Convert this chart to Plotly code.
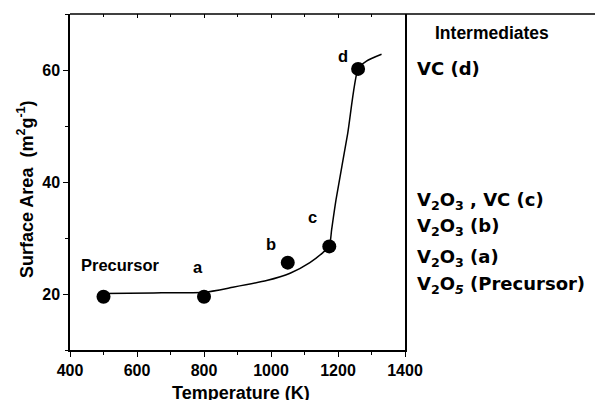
import plotly.graph_objects as go

# Measured surface areas of the precursor and intermediates
temperature_K = [500, 800, 1050, 1174, 1260]
surface_area = [19.5, 19.5, 25.6, 28.5, 60.2]
point_labels = ["Precursor", "a", "b", "c", "d"]

# Smooth guide curve through the data
curve_T = [500, 650, 800, 886, 987, 1057, 1116, 1155, 1174, 1181, 1194, 1229, 1260, 1285, 1330]
curve_SA = [20.1, 20.2, 20.3, 21.2, 22.4, 23.7, 25.6, 27.4, 28.5, 31.5, 36.8, 48.7, 60.2, 61.6, 62.8]

# Phases found at each stage
phase_labels = [
    "VC (d)",
    "V<sub>2</sub>O<sub>3</sub> , VC (c)",
    "V<sub>2</sub>O<sub>3</sub> (b)",
    "V<sub>2</sub>O<sub>3</sub> (a)",
    "V<sub>2</sub>O<sub><i>5</i></sub> (Precursor)",
]

FONT = "Liberation Sans"
PHASE_FONT = "DejaVu Sans"
W, H = 595, 400
L, R, T, B = 70, 190, 14, 50
PW, PH = W - L - R, H - T - B


def px_x(x):
    return (x - L) / PW


def px_y(y):
    return (H - B - y) / PH


def bold(size, family=FONT):
    return dict(family=family, size=size, color="black", weight="bold")


fig = go.Figure()

fig.add_trace(go.Scatter(
    x=curve_T, y=curve_SA, mode="lines",
    line=dict(color="black", width=1.5, shape="spline", smoothing=0.6),
    hoverinfo="skip", showlegend=False,
))
fig.add_trace(go.Scatter(
    x=temperature_K, y=surface_area, mode="markers",
    marker=dict(color="black", size=14),
    showlegend=False,
))

# Point labels, offset from each marker (pixels)
label_offsets = {
    "Precursor": (17, 32),
    "a": (-6, 30),
    "b": (-17, 19),
    "c": (-17, 29),
    "d": (-15, 13),
}
for t, s, lab in zip(temperature_K, surface_area, point_labels):
    dx, dy = label_offsets[lab]
    fig.add_annotation(
        x=t, y=s, text=lab, showarrow=False,
        xshift=dx, yshift=dy, xanchor="center", yanchor="middle",
        font=bold(16.5),
    )

# Right-hand panel text
fig.add_annotation(
    xref="paper", yref="paper", x=px_x(433), y=px_y(32.5),
    text="Intermediates", showarrow=False, xanchor="left", yanchor="middle",
    font=bold(17.5),
)
phase_rows = [68.5, 200.5, 227, 257.5, 284.5]
for txt, yrow in zip(phase_labels, phase_rows):
    fig.add_annotation(
        xref="paper", yref="paper", x=px_x(415), y=px_y(yrow),
        text=txt, showarrow=False, xanchor="left", yanchor="middle",
        font=bold(18, PHASE_FONT),
    )

# Axis titles
fig.add_annotation(
    xref="paper", yref="paper", x=px_x(241), y=px_y(393),
    text="Temperature (K)", showarrow=False, xanchor="center", yanchor="middle",
    font=bold(18),
)
fig.add_annotation(
    xref="paper", yref="paper", x=px_x(26), y=px_y(189),
    text="Surface Area  (m<sup>2</sup>g<sup>-1</sup>)", showarrow=False,
    textangle=-90, xanchor="center", yanchor="middle",
    font=bold(18),
)

# Top frame line running across the full width
fig.add_shape(
    type="line", xref="paper", yref="paper",
    x0=0, x1=(W - L) / PW, y0=1, y1=1,
    line=dict(color="black", width=1.5),
)

fig.update_layout(
    width=W, height=H,
    margin=dict(l=L, r=R, t=T, b=B),
    paper_bgcolor="white", plot_bgcolor="white",
    font=dict(family=FONT, size=16, color="black"),
    xaxis=dict(
        range=[400, 1400], tick0=400, dtick=200,
        showgrid=False, zeroline=False,
        showline=True, linecolor="black", linewidth=1.5,
        ticks="outside", ticklen=5, tickwidth=1.2, tickcolor="black",
        minor=dict(dtick=100, ticks="outside", ticklen=3, tickcolor="black"),
        tickfont=bold(16),
    ),
    xaxis2=dict(
        overlaying="x", matches="x", side="top",
        range=[400, 1400], tick0=400, dtick=200,
        showgrid=False, zeroline=False, showline=False,
        ticks="inside", ticklen=4, tickcolor="black",
        minor=dict(dtick=100, ticks="inside", ticklen=3, tickcolor="black"),
        showticklabels=False,
    ),
    yaxis=dict(
        range=[10, 70], tick0=0, dtick=20,
        showgrid=False, zeroline=False,
        showline=True, linecolor="black", linewidth=1.5, mirror=True,
        ticks="outside", ticklen=5, tickwidth=1.2, tickcolor="black",
        minor=dict(dtick=10, ticks="outside", ticklen=3, tickcolor="black"),
        tickfont=bold(16),
    ),
)

# invisible trace to activate the top axis
fig.add_trace(go.Scatter(x=[400], y=[10], xaxis="x2", mode="markers",
                         marker=dict(opacity=0), hoverinfo="skip", showlegend=False))

fig.write_html("out.html")
